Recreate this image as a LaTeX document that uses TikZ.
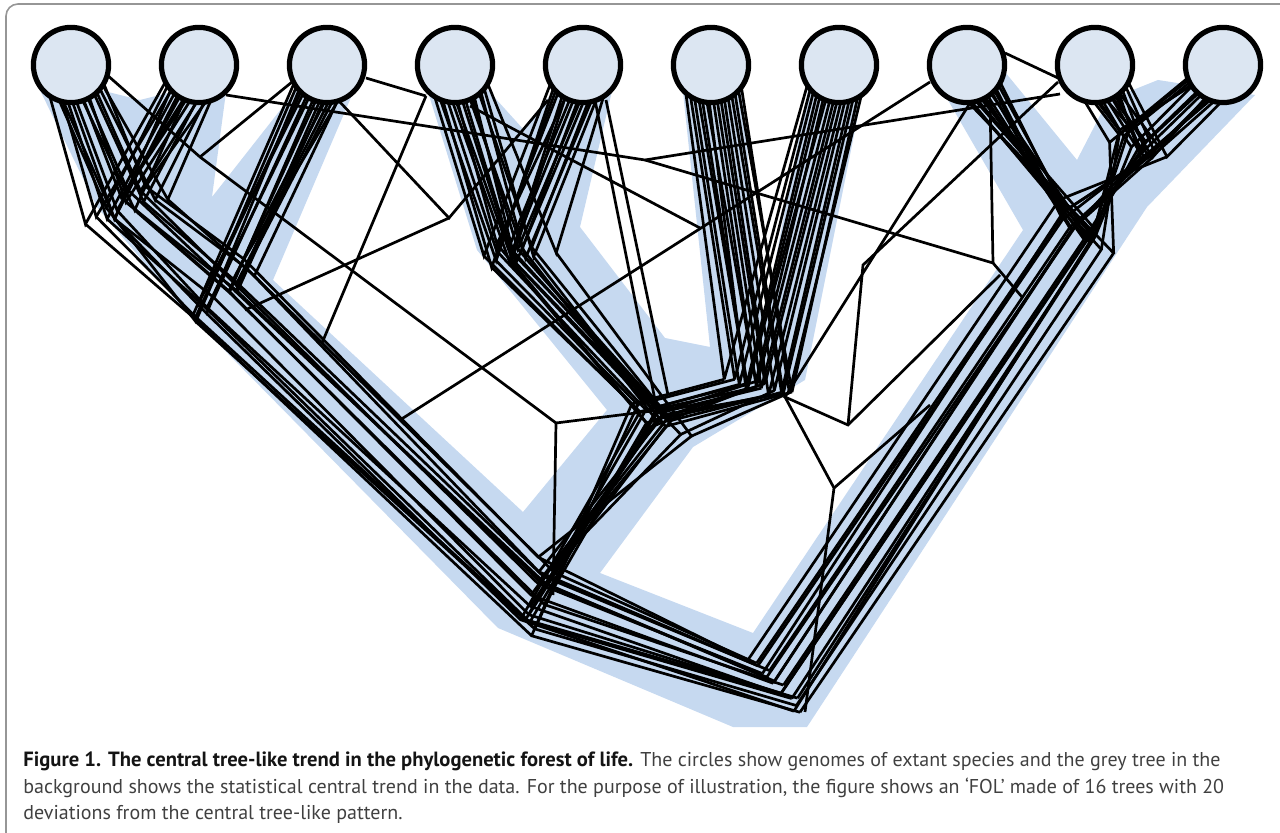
\documentclass[tikz,border=0pt]{standalone}
\usepackage{fontspec}
\setmainfont{PT Sans}
\definecolor{bandblue}{RGB}{198,217,240}
\definecolor{leaffill}{RGB}{220,230,242}
\definecolor{framegray}{RGB}{150,150,150}
\begin{document}
\begin{tikzpicture}[x=0.5pt,y=-0.5pt,
  tree/.style={draw=black,line width=1.35pt,miter limit=4},
  leaf/.style={circle,draw=black,fill=leaffill,line width=2.6pt,minimum size=37.6pt,inner sep=0pt},
  captext/.style={anchor=base west,inner sep=0pt,font=\fontsize{10}{12}\selectfont,text=black!75}]
\useasboundingbox (0,0) rectangle (1280,833);
\clip (0,0) rectangle (1280,833);
\draw[framegray,line width=0.8pt,rounded corners=6pt] (6,4) rectangle (1300,850);

% central tree-like trend (background band)
\fill[bandblue] (36,82) -- (97,207) -- (180,305) -- (498,628) -- (733,727) -- (807,727)
  -- (1147,207) -- (1255,95) -- (1158,80) -- (1108,100) -- (1077,160) -- (1005,72)
  -- (945,95) -- (1023,230) -- (753,633) -- (600,573) -- (693,447) -- (805,380)
  -- (862,95) -- (808,90) -- (763,325) -- (742,90) -- (683,92) -- (710,347)
  -- (665,338) -- (580,227) -- (612,91) -- (554,90) -- (524,130) -- (486,88)
  -- (428,92) -- (477,250) -- (607,410) -- (523,512) -- (273,280) -- (355,88)
  -- (296,90) -- (212,197) -- (226,92) -- (172,92) -- (140,100) -- (100,90) -- cycle;

% sixteen trees of the forest
\pgfmathsetseed{4321}
\foreach \k in {0,...,15}{
  \pgfmathsetmacro\s{(\k-7.5)/7.5}
  \foreach \i/\cx in {1/71,2/199,3/327,4/455,5/583,6/711,7/839,8/967,9/1095,10/1223}{
    \coordinate (l\i) at ({\cx+28*\s},72);
  }
  \coordinate (j12) at ({128+30*\s+14*rand},{205-10*\s+14*rand});
  \coordinate (j123) at ({222+28*\s+10*rand},{297-28*\s+10*rand});
  \coordinate (jm) at ({537+10*\s+10*rand},{598-36*\s+8*rand});
  \coordinate (rt) at ({777-26*\s+5*rand},{686-28*\s+5*rand});
  \coordinate (j45) at ({515+30*\s+14*rand},{255-5*\s+12*rand});
  \coordinate (j67) at ({760+30*\s+8*rand},{388+5*\s+6*rand});
  \coordinate (j4567) at ({660+22*\s+14*rand},{418+10*\s+12*rand});
  \coordinate (j910) at ({1138+20*\s+14*rand},{148+18*\s+14*rand});
  \coordinate (j8910) at ({1080-24*\s+10*rand},{230-22*\s+10*rand});
  \draw[tree] (l1) -- (j12) -- (l2);
  \draw[tree] (j12) -- (j123) -- (l3);
  \draw[tree] (j123) -- (jm) -- (rt);
  \draw[tree] (l4) -- (j45) -- (l5);
  \draw[tree] (j45) -- (j4567) -- (jm);
  \draw[tree] (l6) -- (j67) -- (l7);
  \draw[tree] (j67) -- (j4567);
  \draw[tree] (l8) -- (j8910) -- (rt);
  \draw[tree] (l9) -- (j910) -- (l10);
  \draw[tree] (j910) -- (j8910);
}

% deviations from the central pattern
\coordinate (dA) at (200,157);
\coordinate (dB) at (449,218);
\coordinate (dC) at (645,160);
\coordinate (dD) at (993,263);
\coordinate (dE) at (848,425);
\coordinate (dF) at (834,488);
\coordinate (dG) at (556,423);
\coordinate (dH) at (700,228);
\coordinate (dI) at (863,265);
\coordinate (dJ) at (785,397);
\coordinate (s1) at (106,74);
\coordinate (s2) at (292,82);
\coordinate (s3) at (338,100);
\coordinate (s4) at (548,100);
\coordinate (s5) at (226,95);
\coordinate (s6) at (1060,94);
\coordinate (s7) at (990,100);
\coordinate (s8) at (426,96);
\coordinate (s9) at (366,78);
\coordinate (s10) at (470,106);
\coordinate (s11) at (930,82);
\coordinate (s12) at (972,100);
\coordinate (s13) at (595,100);
\coordinate (s14) at (606,100);
\coordinate (s15) at (1005,53);
\coordinate (s16) at (1058,78);
\coordinate (s17) at (1058,82);
\coordinate (e1) at (245,310);
\coordinate (e2) at (1022,297);
\coordinate (e3) at (322,343);
\coordinate (e4) at (400,420);
\coordinate (e5) at (1000,275);
\coordinate (e6) at (805,712);
\coordinate (e7) at (930,405);
\coordinate (e8) at (553,595);
\coordinate (e9) at (700,405);
\coordinate (e10) at (655,400);
\coordinate (e11) at (668,395);
\draw[tree] (s1) -- (dA) -- (dG);
\draw[tree] (s2) -- (dA);
\draw[tree] (s3) -- (dB) -- (s4);
\draw[tree] (dB) -- (e1);
\draw[tree] (s5) -- (dC) -- (s6);
\draw[tree] (dC) -- (dD) -- (e2);
\draw[tree] (s7) -- (dD);
\draw[tree] (s8) -- (e3);
\draw[tree] (s9) -- (s8);
\draw[tree] (s10) -- (dH);
\draw[tree] (s11) -- (e4);
\draw[tree] (s12) -- (dJ) -- (dE) -- (e5);
\draw[tree] (dJ) -- (dF) -- (e6);
\draw[tree] (dF) -- (e7);
\draw[tree] (dG) -- (e8);
\draw[tree] (dG) -- (e9);
\draw[tree] (s13) -- (e10);
\draw[tree] (s14) -- (e11);
\draw[tree] (s15) -- (s16);
\draw[tree] (s17) -- (dI) -- (dE);

% genomes of extant species
\foreach \i/\cx in {1/71,2/199,3/327,4/455,5/583,6/711,7/839,8/967,9/1095,10/1223}{
  \node[leaf] (g\i) at (\cx,65) {};
}

% caption
\node[captext] (cap1) at (23,766) {{\fontsize{10.3}{12}\selectfont\bfseries\color{black!92}Figure 1. The central tree-like trend in the phylogenetic forest of life.} The circles show genomes of extant species and the grey tree in the};
\node[captext] (cap2) at (23,793) {background shows the statistical central trend in the data. For the purpose of illustration, the figure shows an ‘FOL’ made of 16 trees with 20};
\node[captext] (cap3) at (23,819) {deviations from the central tree-like pattern.};
\end{tikzpicture}
\end{document}
